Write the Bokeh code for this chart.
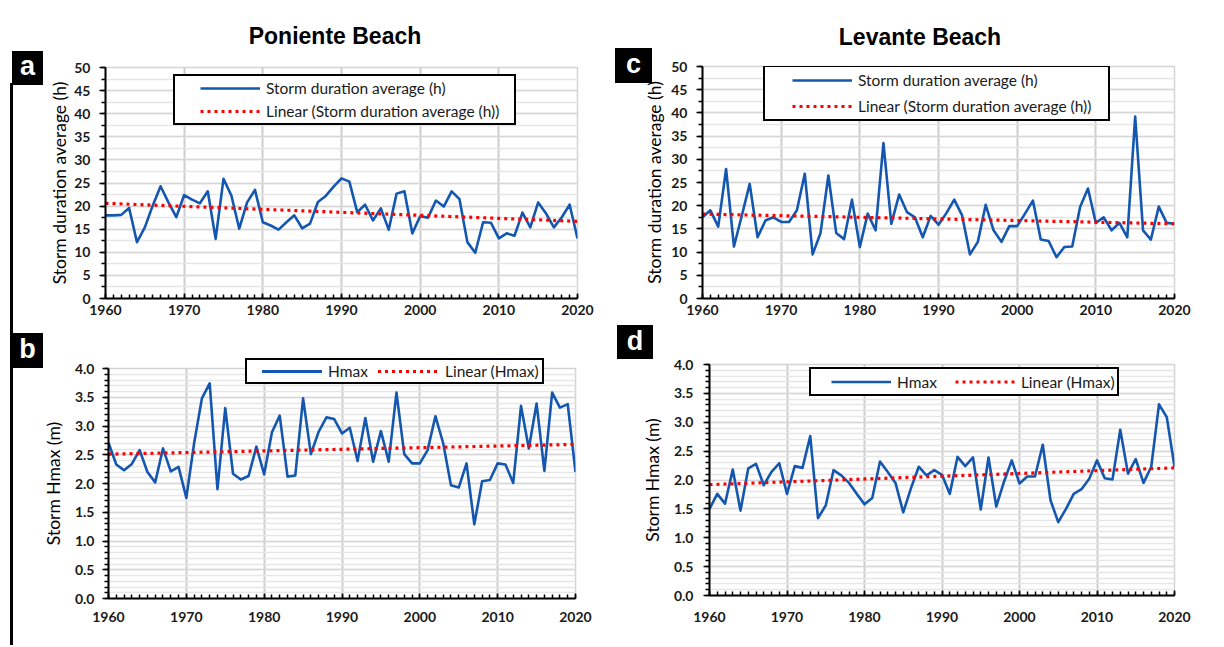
from bokeh.plotting import figure
from bokeh.models import (FixedTicker, PrintfTickFormatter, Legend, LegendItem,
                          Range1d, Div, Spacer)
from bokeh.layouts import column, row
from bokeh.embed import file_html
from bokeh.resources import INLINE

# ---------------- data ----------------
years = list(range(1960, 2021))
decade_ticks = [1960, 1970, 1980, 1990, 2000, 2010, 2020]

poniente_duration = [
    18.0, 18.0, 18.1, 19.6, 12.2, 15.4, 20.1, 24.3, 20.8, 17.6,
    22.4, 21.4, 20.6, 23.2, 12.9, 25.9, 22.3, 15.1, 20.8, 23.5,
    16.5, 15.8, 14.9, 16.5, 18.0, 15.2, 16.2, 20.9, 22.2, 24.2,
    26.0, 25.3, 18.7, 20.3, 16.9, 19.5, 14.9, 22.7, 23.2, 14.1,
    17.8, 17.5, 21.2, 19.9, 23.2, 21.5, 12.2, 9.9, 16.5, 16.4,
    13.0, 14.1, 13.6, 18.6, 15.4, 20.8, 18.4, 15.4, 17.6, 20.3,
    13.0]

poniente_hmax = [
    2.71, 2.33, 2.23, 2.34, 2.58, 2.20, 2.02, 2.61, 2.21, 2.29,
    1.75, 2.70, 3.48, 3.74, 1.90, 3.31, 2.17, 2.07, 2.13, 2.64,
    2.16, 2.89, 3.18, 2.12, 2.14, 3.48, 2.51, 2.90, 3.15, 3.12,
    2.87, 2.97, 2.39, 3.14, 2.38, 2.91, 2.38, 3.58, 2.51, 2.35,
    2.35, 2.58, 3.17, 2.70, 1.97, 1.93, 2.35, 1.29, 2.04, 2.06,
    2.35, 2.33, 2.01, 3.35, 2.61, 3.39, 2.22, 3.58, 3.32, 3.38,
    2.20]

levante_duration = [
    17.5, 19.0, 15.5, 27.9, 11.2, 17.9, 24.7, 13.2, 16.8, 17.5,
    16.5, 16.5, 19.0, 26.9, 9.5, 14.1, 26.5, 14.1, 12.8, 21.3,
    11.1, 18.3, 14.7, 33.5, 16.1, 22.4, 18.6, 17.5, 13.2, 17.8,
    15.9, 18.4, 21.3, 17.9, 9.5, 12.2, 20.2, 14.7, 12.2, 15.6,
    15.6, 18.3, 21.1, 12.7, 12.4, 8.9, 11.1, 11.2, 19.7, 23.7,
    16.3, 17.5, 14.7, 16.3, 13.2, 39.2, 14.7, 12.7, 19.8, 16.3,
    16.1]

levante_hmax = [
    1.50, 1.76, 1.59, 2.18, 1.47, 2.20, 2.28, 1.91, 2.14, 2.29,
    1.76, 2.24, 2.21, 2.76, 1.34, 1.56, 2.17, 2.08, 1.95, 1.76,
    1.58, 1.69, 2.32, 2.14, 1.95, 1.44, 1.86, 2.23, 2.08, 2.17,
    2.09, 1.76, 2.40, 2.24, 2.39, 1.49, 2.39, 1.54, 1.97, 2.34,
    1.94, 2.06, 2.06, 2.61, 1.65, 1.27, 1.50, 1.76, 1.84, 2.02,
    2.34, 2.03, 2.01, 2.87, 2.11, 2.36, 1.95, 2.23, 3.31, 3.09,
    2.23]

# linear trendlines, end values (1960 and 2020)
trend_years = [1960, 2020]
poniente_duration_trend = [20.6, 16.7]
poniente_hmax_trend = [2.51, 2.68]
levante_duration_trend = [18.2, 16.1]
levante_hmax_trend = [1.92, 2.21]

duration_ticks = [0, 5, 10, 15, 20, 25, 30, 35, 40, 45, 50]
duration_minor = [0, 2.5, 5, 7.5, 10, 12.5, 15, 17.5, 20, 22.5, 25, 27.5,
                  30, 32.5, 35, 37.5, 40, 42.5, 45, 47.5, 50]
hmax_ticks = [0.0, 0.5, 1.0, 1.5, 2.0, 2.5, 3.0, 3.5, 4.0]
hmax_minor = [0.0, 0.1, 0.2, 0.3, 0.4, 0.5, 0.6, 0.7, 0.8, 0.9,
              1.0, 1.1, 1.2, 1.3, 1.4, 1.5, 1.6, 1.7, 1.8, 1.9,
              2.0, 2.1, 2.2, 2.3, 2.4, 2.5, 2.6, 2.7, 2.8, 2.9,
              3.0, 3.1, 3.2, 3.3, 3.4, 3.5, 3.6, 3.7, 3.8, 3.9, 4.0]

# ---------------- style ----------------
BLUE = "#1457B0"
RED = "#FF0000"
FONT = "Lato"
TXT = "#1a1a1a"


def panel(width, height, borders, yvals, tvals, ymax, yticks, yminor, yfmt,
          ylabel, series_label, trend_label, x_standoff, y_standoff,
          ylab_standoff, leg=None):
    bl, br, bt, bb = borders
    p = figure(width=width, height=height,
               x_range=Range1d(1960, 2020), y_range=Range1d(0, ymax),
               output_backend="svg", toolbar_location=None,
               min_border_left=bl, min_border_right=br,
               min_border_top=bt, min_border_bottom=bb)
    p.background_fill_color = "white"
    p.border_fill_alpha = 0
    p.outline_line_color = "#d4d4d4"
    p.outline_line_width = 1.5

    p.xgrid.grid_line_color = "#cdcdcd"
    p.xgrid.grid_line_width = 2
    p.ygrid.grid_line_color = "#d6d6d6"
    p.ygrid.grid_line_width = 1.6
    p.ygrid.minor_grid_line_color = "#e6e6e6"
    p.ygrid.minor_grid_line_width = 1.3

    xa = p.xaxis[0]
    xa.ticker = FixedTicker(ticks=decade_ticks, minor_ticks=years)
    xa.axis_line_color = "black"
    xa.axis_line_width = 2
    xa.major_tick_in = 5
    xa.major_tick_out = 0
    xa.minor_tick_in = 4
    xa.minor_tick_out = 0
    xa.major_tick_line_color = "black"
    xa.major_tick_line_width = 1.5
    xa.minor_tick_line_color = "black"
    xa.minor_tick_line_width = 1.5
    xa.major_label_text_font = FONT
    xa.major_label_text_font_style = "bold"
    xa.major_label_text_font_size = "14px"
    xa.major_label_text_color = TXT
    xa.major_label_standoff = x_standoff

    ya = p.yaxis[0]
    ya.ticker = FixedTicker(ticks=yticks, minor_ticks=yminor)
    if yfmt:
        ya.formatter = PrintfTickFormatter(format=yfmt)
    ya.axis_line_color = "black"
    ya.axis_line_width = 2
    ya.major_tick_in = 0
    ya.major_tick_out = 6
    ya.minor_tick_in = 0
    ya.minor_tick_out = 4
    ya.major_tick_line_color = "black"
    ya.major_tick_line_width = 1.5
    ya.minor_tick_line_color = "black"
    ya.minor_tick_line_width = 1.3
    ya.major_label_text_font = FONT
    ya.major_label_text_font_style = "bold"
    ya.major_label_text_font_size = "14px"
    ya.major_label_text_color = TXT
    ya.major_label_standoff = y_standoff
    ya.axis_label = ylabel
    ya.axis_label_text_font = FONT
    ya.axis_label_text_font_style = "normal"
    ya.axis_label_text_font_size = "17.5px"
    ya.axis_label_text_color = "black"
    ya.axis_label_standoff = ylab_standoff

    r1 = p.line(years, yvals, line_color=BLUE, line_width=2.6,
                line_join="round")
    r2 = p.line(trend_years, tvals, line_color=RED, line_width=3.2,
                line_dash="3 4")

    if leg is not None:
        legend = Legend(items=[LegendItem(label=series_label, renderers=[r1]),
                               LegendItem(label=trend_label, renderers=[r2])],
                        location=leg["loc"], orientation=leg["orient"],
                        spacing=leg["spacing"], padding=leg["pad"], margin=0,
                        glyph_width=60, glyph_height=leg["h"],
                        label_height=leg["h"], label_width=leg.get("lw", 20),
                        label_standoff=6,
                        label_text_font=FONT, label_text_font_size="15.5px",
                        label_text_color=TXT,
                        title="\u00a0", title_location="left",
                        title_standoff=leg["t"], title_text_font_size="1px",
                        border_line_color="black", border_line_width=2,
                        border_line_alpha=1.0,
                        background_fill_color="white",
                        background_fill_alpha=1.0)
        p.add_layout(legend)
    return p


SW = 1              # width of the thin overlay strips
LW, RW = 593, 627   # widths of the left / right columns
X_RIGHT = SW + LW + SW   # page x where the right column starts (595)

# plots in one column share border sizes, so the small shifts between the
# upper and lower plot areas are made with spacers
pa = panel(LW, 272, (104, 17, 9, 32), poniente_duration,
           poniente_duration_trend, 50, duration_ticks, duration_minor, None,
           "Storm duration average (h)", "Storm duration average (h)",
           "Linear (Storm duration average (h))", 6, 9, 1,
           dict(loc=(68, 173), orient="vertical", spacing=3, pad=2, h=20,
                t=22, lw=246))

# panel b's legend sits across the top edge of the plot area -> drawn in HTML
pb = panel(LW - 5, 315, (104, 17, 38, 47), poniente_hmax, poniente_hmax_trend,
           4, hmax_ticks, hmax_minor, "%.1f",
           "Storm Hmax (m)", "Hmax", "Linear (Hmax)", 13, 8, 8)

pc = panel(RW, 272, (107, 48, 8, 32), levante_duration,
           levante_duration_trend, 50, duration_ticks, duration_minor, None,
           "Storm duration average (h)", "Storm duration average (h)",
           "Linear (Storm duration average (h))", 6, 9, 3,
           dict(loc=(61, 177), orient="vertical", spacing=6, pad=3, h=20,
                t=23, lw=247))

pd_ = panel(RW - 7, 315, (107, 48, 34, 50), levante_hmax, levante_hmax_trend,
            4, hmax_ticks, hmax_minor, "%.1f",
            "Storm Hmax (m)", "Hmax", "Linear (Hmax)", 16, 10, 8,
            dict(loc=(100, 199), orient="horizontal", spacing=18, pad=2, h=21,
                 t=17))

# ---------------- frame, panel letters, titles, legend b (HTML) ----------
BOX = ("position:absolute;background:#000;color:#fff;"
       "font-family:'Liberation Sans',sans-serif;font-weight:bold;"
       "font-size:27px;text-align:center;")
LEGTXT = (f"position:absolute;font-family:{FONT},sans-serif;font-size:15.5px;"
          f"line-height:24px;color:{TXT};white-space:nowrap;")

left_html = (
    f'<div style="position:relative;width:{SW}px;height:645px;">'
    '<div style="position:absolute;left:10px;top:83px;width:3px;'
    'height:562px;background:#000;"></div>'
    f'<div style="{BOX}left:12px;top:51px;width:31px;height:34px;'
    'line-height:31px;">a</div>'
    f'<div style="{BOX}left:12px;top:333px;width:31px;height:35px;'
    'line-height:32px;">b</div>'
    # legend of panel b
    '<div style="position:absolute;left:245px;top:358px;width:299px;'
    'height:26px;border:2px solid #000;background:#fff;'
    'box-sizing:border-box;"></div>'
    f'<div style="position:absolute;left:262px;top:370px;width:60px;'
    f'height:3px;background:{BLUE};"></div>'
    f'<div style="{LEGTXT}left:328px;top:359px;">Hmax</div>'
    '<div style="position:absolute;left:378px;top:370px;width:60px;'
    'height:3px;background:repeating-linear-gradient(to right,#f00 0px,'
    '#f00 3px,transparent 3px,transparent 7px);"></div>'
    f'<div style="{LEGTXT}left:445px;top:359px;">Linear (Hmax)</div>'
    '</div>')

rx = X_RIGHT - SW
right_html = (
    f'<div style="position:relative;width:{SW}px;height:645px;">'
    f'<div style="{BOX}left:{615 - rx}px;top:48px;width:37px;height:35px;'
    'line-height:33px;">c</div>'
    f'<div style="{BOX}left:{617 - rx}px;top:325px;width:36px;height:34px;'
    'line-height:32px;">d</div>'
    '</div>')

TITLE = ("position:absolute;width:300px;text-align:center;"
         "font-family:'Liberation Sans',sans-serif;font-weight:bold;"
         "font-size:23px;line-height:26px;color:#000;white-space:nowrap;")

band_left_html = (
    f'<div style="position:relative;width:{LW}px;height:58px;">'
    f'<div style="{TITLE}left:{335 - SW - 150}px;top:23px;">'
    'Poniente Beach</div></div>')
band_right_html = (
    f'<div style="position:relative;width:{RW}px;height:58px;">'
    f'<div style="{TITLE}left:{920 - X_RIGHT - 150}px;top:24px;">'
    'Levante Beach</div></div>')

over = {"overflow": "visible", "z-index": "10"}
left_strip = Div(text=left_html, width=SW, height=645, margin=0, styles=over)
right_strip = Div(text=right_html, width=SW, height=645, margin=0, styles=over)
band_left = Div(text=band_left_html, width=LW, height=58, margin=0)
band_right = Div(text=band_right_html, width=RW, height=58, margin=0)

row_b = row(Spacer(width=3, height=315), pb, Spacer(width=2, height=315))
row_d = row(Spacer(width=7, height=315), pd_)

layout = row(left_strip, column(band_left, pa, row_b),
             right_strip, column(band_right, pc, row_d))

open("out.html", "w").write(file_html(layout, INLINE))
